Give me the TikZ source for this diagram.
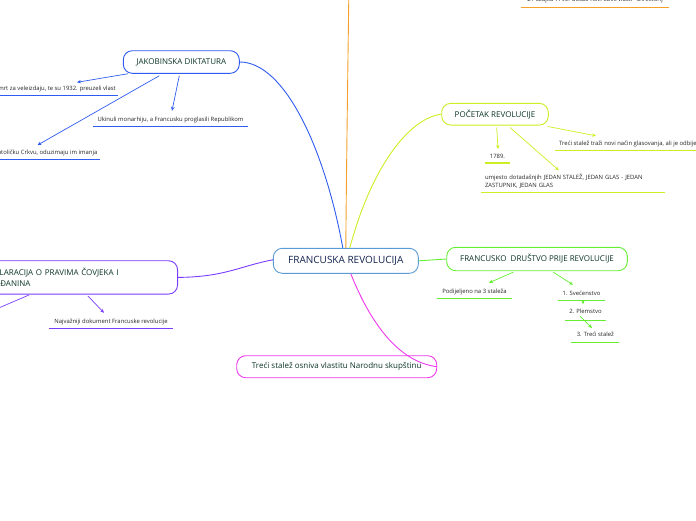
\documentclass[tikz,border=0pt]{standalone}
\usepackage{fontspec}
\setmainfont{Open Sans}
\usetikzlibrary{arrows.meta}
\definecolor{cmain}{HTML}{5B9BD5}
\definecolor{cblue}{HTML}{2E5CF0}
\definecolor{corange}{HTML}{F5A02A}
\definecolor{cyel}{HTML}{CCEE22}
\definecolor{cgreen}{HTML}{66EE33}
\definecolor{cpurp}{HTML}{7A3CFF}
\definecolor{cmag}{HTML}{EE38EE}
\definecolor{ntext}{HTML}{0B3528}
\definecolor{mtext}{HTML}{142450}
\definecolor{stext}{HTML}{262626}
\begin{document}
\begin{tikzpicture}[x=1pt,y=-1pt,
  topic/.style={draw, rounded corners=9pt, line width=0.9pt, fill=white, text=ntext,
    font=\fontsize{8}{9}\selectfont, inner sep=0pt, align=center},
  sub/.style={inner sep=0pt, text=stext, font=\fontsize{5.9}{8}\selectfont, minimum height=13pt},
  ul/.style={line width=1.2pt},
  arr/.style={-{Stealth[length=4pt,width=3.5pt]}, line width=0.7pt},
  conn/.style={line width=0.9pt}]
\useasboundingbox (0,0) rectangle (696,520);
\clip (0,0) rectangle (696,520);

% main nodes
\node[topic, draw=cmain, text=mtext, font=\fontsize{10}{11}\selectfont,
  minimum width=145pt, minimum height=25pt] (fr) at (345.8,260.8) {FRANCUSKA REVOLUCIJA};
\node[topic, draw=cblue, minimum width=116pt, minimum height=22.6pt] (jak) at (181.3,62) {JAKOBINSKA DIKTATURA};
\node[topic, draw=cyel, minimum width=106.6pt, minimum height=21.7pt] (poc) at (495,114.2) {POČETAK REVOLUCIJE};
\node[topic, draw=cgreen, minimum width=180.6pt, minimum height=23.4pt] (fd) at (537,259) {FRANCUSKO\ \ DRUŠTVO PRIJE REVOLUCIJE};
\node[topic, draw=cpurp, anchor=east, minimum height=33.3pt, text width=181pt, align=left,
  inner xsep=12pt, font=\fontsize{8}{11}\selectfont] (dek) at (178,277.4)
  {DEKLARACIJA O PRAVIMA ČOVJEKA I\\GRAĐANINA};
\node[topic, draw=cmag, minimum width=200pt, minimum height=22pt] (tr) at (336.7,366.7)
  {Treći stalež osniva vlastitu Narodnu skupštinu};

% sub topics
\node[sub, anchor=east, inner xsep=2pt] (j1) at (118,89) {Kralja osuđuju na smrt za veleizdaju, te su 1932. preuzeli vlast};
\node[sub, minimum width=155pt] (j2) at (170.5,119.5) {Ukinuli monarhiju, a Francusku proglasili Republikom};
\node[sub, anchor=east, inner xsep=2pt] (j3) at (99.5,152.8) {Progone Katoličku Crkvu, oduzimaju im imanja};

\node[sub, anchor=west, inner xsep=4pt] (p1) at (555,143.5) {Treći stalež traži novi način glasovanja, ali je odbijen};
\node[sub, minimum width=25pt, minimum height=13.5pt] (p2) at (497.5,156) {1789.};
\node[sub, minimum width=184pt, minimum height=22pt, text width=176pt, align=left] (p3) at (573,181)
  {umjesto dotadašnjih JEDAN STALEŽ, JEDAN GLAS - JEDAN\\ZASTUPNIK, JEDAN GLAS};

\node[sub, minimum width=75pt] (f1) at (474.5,291.5) {Podijeljeno na 3 staleža};
\node[sub, minimum width=47pt, minimum height=14pt] (f2) at (581.5,293) {1. Svećenstvo};
\node[sub, minimum width=41pt, minimum height=16.5pt] (f3) at (585.5,311.7) {2. Plemstvo};
\node[sub, minimum width=47.3pt, minimum height=16pt] (f4) at (595.3,334.3) {3. Treći stalež};

\node[sub, minimum width=124pt] (d1) at (111,321.5) {Najvažniji dokument Francuske revolucije};

\node[sub, minimum width=148pt, minimum height=15.6pt] (o1) at (595,-0.5) {21 ožujka 1795. došao novi oblik vlasti - Direktorij};

% underlines
\foreach \n/\c in {j1/cblue,j2/cblue,j3/cblue,p1/cyel,p2/cyel,p3/cyel,f1/cgreen,f2/cgreen,f3/cgreen,f4/cgreen,d1/cpurp,o1/corange}
  \draw[ul, \c] (\n.south west) -- (\n.south east);

% main connectors
\coordinate (otop) at (349,-20);
\coordinate (dchild) at (-20,316);
\draw[conn, cblue] ([xshift=-3pt]fr.north) .. controls (325,150) and (285,62) .. (jak.east);
\draw[conn, corange] (fr.north) .. controls (346.5,160) and (348,60) .. (otop);
\draw[conn, cyel] ([xshift=4pt]fr.north) .. controls (372,165) and (410,118) .. (poc.west);
\draw[conn, cgreen] (fr.east) -- (fd.west);
\draw[conn, cpurp] (dek.east) .. controls (225,277) and (240,266) .. ([yshift=1pt]fr.west);
\draw[conn, cmag] ([xshift=5pt]fr.south) .. controls (370,322) and (398,362) .. (tr.east);

% sub connectors
\draw[arr, cblue] ([xshift=5pt]jak.south west) -- ([xshift=-41pt]j1.north east);
\draw[arr, cblue] ([xshift=-2pt,yshift=-2pt]jak.south) -- ([xshift=1.5pt,yshift=2pt]j2.north);
\draw[arr, cblue] ([xshift=-22pt,yshift=-2pt]jak.south) -- ([xshift=-62pt,yshift=1pt]j3.north east);

\draw[arr, cyel] ([xshift=-1pt,yshift=-1pt]poc.south east) -- ([xshift=41pt,yshift=1pt]p1.north west);
\draw[arr, cyel] ([xshift=1.7pt,yshift=-2pt]poc.south) -- ([xshift=0.5pt]p2.north);
\draw[arr, cyel] ([xshift=15pt,yshift=-2pt]poc.south) -- ([xshift=78pt,yshift=-0.5pt]p3.north west);

\draw[arr, cgreen] ([xshift=67pt,yshift=-1pt]fd.south west) -- ([xshift=14.5pt,yshift=2pt]f1.north);
\draw[arr, cgreen] ([xshift=107pt,yshift=-1pt]fd.south west) -- ([xshift=-8.5pt,yshift=1pt]f2.north);
\draw[arr, cgreen] ([xshift=1.5pt]f2.south) -- ([xshift=-2.5pt,yshift=-1pt]f3.north);
\draw[arr, cgreen] ([xshift=-5.5pt,yshift=4pt]f3.south) -- ([xshift=-3.3pt,yshift=-2pt]f4.north);

\draw[arr, cpurp] ([xshift=-90pt,yshift=-1.5pt]dek.south east) -- ([xshift=-7pt,yshift=2pt]d1.north);
\draw[conn, cpurp, line width=0.7pt] ([xshift=-149pt,yshift=-0.5pt]dek.south east) -- (dchild);
\end{tikzpicture}
\end{document}
